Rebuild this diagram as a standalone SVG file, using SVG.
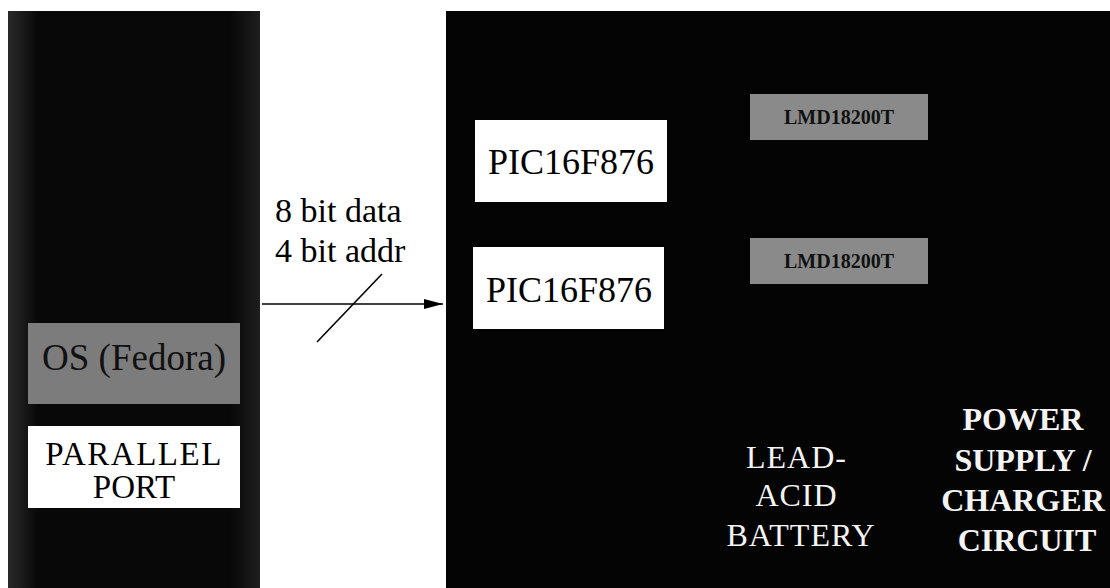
<svg xmlns="http://www.w3.org/2000/svg" width="1110" height="588" viewBox="0 0 1110 588">
<style>
.t{font-family:'Liberation Serif','Times New Roman',Times,serif}
.blk{fill:#040404}
.white{fill:#ffffff}
.grey{fill:#7c7c7c}
.lmd{fill:#8a8a8a}
.dk{fill:#111111}
.wt{fill:#f4f4f4}
.line{stroke:#000;stroke-width:1.6;fill:none}
</style>
<defs>
<linearGradient id="edgeL" x1="0" y1="0" x2="1" y2="0">
<stop offset="0" stop-color="#2a2a2a"/>
<stop offset="0.12" stop-color="#080808"/>
<stop offset="0.88" stop-color="#080808"/>
<stop offset="1" stop-color="#1e1e1e"/>
</linearGradient>
<marker id="arr" markerWidth="20" markerHeight="12" refX="19" refY="6" orient="auto" markerUnits="userSpaceOnUse">
<path d="M0,1 L19,6 L0,11 Z" fill="#000"/>
</marker>
</defs>
<rect width="1110" height="588" fill="#ffffff"/>
<g id="pc">
<rect x="8" y="11" width="252" height="577" fill="url(#edgeL)"/>
</g>
<g id="board">
<rect x="446" y="11" width="664" height="577" class="blk"/>
</g>
<g id="os">
<rect x="28" y="323" width="212" height="81" class="grey"/>
<text x="134" y="370" class="t dk" font-size="37" text-anchor="middle">OS (Fedora)</text>
</g>
<g id="parallel">
<rect x="28" y="426" width="212" height="82" class="white"/>
<text x="134" y="465" class="t" font-size="33" fill="#000" text-anchor="middle" letter-spacing="1.5">PARALLEL</text>
<text x="134" y="498" class="t" font-size="33" fill="#000" text-anchor="middle">PORT</text>
</g>
<g id="pic1">
<rect x="475" y="120" width="192" height="82" class="white"/>
<text x="571" y="174" class="t" font-size="36" fill="#000" text-anchor="middle">PIC16F876</text>
</g>
<g id="pic2">
<rect x="473" y="247" width="191" height="82" class="white"/>
<text x="569" y="302" class="t" font-size="36" fill="#000" text-anchor="middle">PIC16F876</text>
</g>
<g id="lmd1">
<rect x="750" y="94" width="178" height="46" class="lmd"/>
<text x="839" y="124" class="t dk" font-size="20" font-weight="bold" text-anchor="middle">LMD18200T</text>
</g>
<g id="lmd2">
<rect x="750" y="238" width="178" height="46" class="lmd"/>
<text x="839" y="268" class="t dk" font-size="20" font-weight="bold" text-anchor="middle">LMD18200T</text>
</g>
<g id="battery">
<text class="t wt" font-size="32" text-anchor="middle" letter-spacing="1">
<tspan x="801" y="468">LEAD-</tspan>
<tspan x="801" y="506">ACID</tspan>
<tspan x="801" y="546">BATTERY</tspan>
</text>
</g>
<g id="power">
<text class="t wt" font-size="32" font-weight="bold" text-anchor="middle">
<tspan x="1027" y="430">POWER</tspan>
<tspan x="1027" y="471">SUPPLY /</tspan>
<tspan x="1027" y="511">CHARGER</tspan>
<tspan x="1027" y="551">CIRCUIT</tspan>
</text>
</g>
<g id="connectors">
<line x1="262" y1="304" x2="443" y2="304" class="line" marker-end="url(#arr)"/>
<line x1="317" y1="342" x2="382" y2="274" class="line"/>
<text class="t" font-size="34" fill="#000">
<tspan x="275" y="222">8 bit data</tspan>
<tspan x="275" y="262">4 bit addr</tspan>
</text>
</g>
</svg>
